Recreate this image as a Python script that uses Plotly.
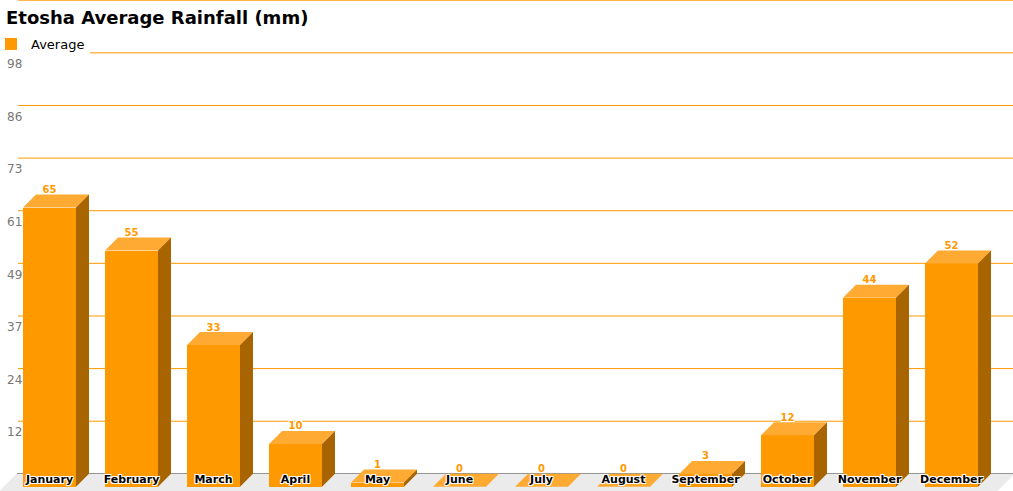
import plotly.graph_objects as go

# data
months = ["January", "February", "March", "April", "May", "June",
          "July", "August", "September", "October", "November", "December"]
rainfall = [65, 55, 33, 10, 1, 0, 0, 0, 3, 12, 44, 52]
y_tick_labels = ["12", "24", "37", "49", "61", "73", "86", "98"]
y_max = 98

# fake 3d geometry (pixels -> axis units)
W, H = 1013, 491
px_cat = 82.0      # pixels per category slot
px_mm = 4.296      # pixels per mm
depth = 13.0       # depth offset in pixels
dxu = depth / px_cat
dyu = depth / px_mm
hw = 26.5 / px_cat  # half bar width

x_lo = -62.5 / px_cat
x_hi = x_lo + W / px_cat
y_hi = 110.3
y_lo = y_hi - H / px_mm

front = "#FF9900"
top_c = "#FFAA33"
side_c = "#A86400"

idx = list(range(len(months)))
fx = [i - dxu for i in idx]

fig = go.Figure()

fig.add_trace(go.Bar(
    x=fx, y=rainfall, base=[-dyu] * len(idx), width=2 * hw,
    name="Average", marker=dict(color=front, line=dict(width=0)),
    hoverinfo="skip",
))

# top faces
tx, ty = [], []
for i, v in zip(idx, rainfall):
    tx += [i - dxu - hw, i - dxu + hw, i + hw, i - hw, i - dxu - hw, None]
    ty += [v - dyu, v - dyu, v, v, v - dyu, None]
fig.add_trace(go.Scatter(x=tx, y=ty, mode="lines", fill="toself", fillcolor=top_c,
                         line=dict(width=0, color=top_c), showlegend=False, hoverinfo="skip"))

# side faces
sx, sy = [], []
for i, v in zip(idx, rainfall):
    if v <= 0:
        continue
    sx += [i - dxu + hw, i + hw, i + hw, i - dxu + hw, i - dxu + hw, None]
    sy += [-dyu, 0, v, v - dyu, -dyu, None]
fig.add_trace(go.Scatter(x=sx, y=sy, mode="lines", fill="toself", fillcolor=side_c,
                         line=dict(width=0, color=side_c), showlegend=False, hoverinfo="skip"))

outline = "-1px -1px 0 #fff, 1px -1px 0 #fff, -1px 1px 0 #fff, 1px 1px 0 #fff"

# value labels
fig.add_trace(go.Scatter(
    x=fx, y=[v + 4 / px_mm for v in rainfall], mode="text",
    text=[str(v) for v in rainfall], textposition="middle center",
    textfont=dict(family="DejaVu Sans", size=10, color=front, weight="bold", shadow=outline),
    showlegend=False, hoverinfo="skip", cliponaxis=False,
))

# month labels
fig.add_trace(go.Scatter(
    x=fx, y=[-dyu * 0.5] * len(idx), mode="text",
    text=months, textposition="middle center",
    textfont=dict(family="DejaVu Sans", size=11, color="#000000", weight="bold", shadow=outline),
    showlegend=False, hoverinfo="skip", cliponaxis=False,
))

tick_vals = [y_max * (k + 1) / len(y_tick_labels) for k in range(len(y_tick_labels) + 1)]

shapes = []
# floor
fl, fr = -0.56, x_hi + 0.02
shapes.append(dict(type="path", xref="x", yref="y", layer="below",
                   path=f"M{fl},0 L{fr},0 L{fr - 2 * dxu},{-2 * dyu} L{fl - 2 * dxu},{-2 * dyu} Z",
                   fillcolor="#EBEBEB", line=dict(width=0)))
# gridlines
for t in tick_vals:
    shapes.append(dict(type="line", xref="paper", yref="y", layer="below",
                       x0=18 / W, x1=1, y0=t, y1=t, line=dict(color="#FF9900", width=1)))
# axis line
shapes.append(dict(type="line", xref="paper", yref="y", layer="below",
                   x0=17 / W, x1=1, y0=0, y1=0, line=dict(color="#333333", width=1)))

fig.update_layout(
    width=W, height=H, autosize=False,
    margin=dict(l=0, r=0, t=0, b=0),
    paper_bgcolor="white", plot_bgcolor="white",
    font=dict(family="DejaVu Sans", color="#000000"),
    title=dict(text="<b>Etosha Average Rainfall (mm)</b>", x=6 / W, xanchor="left",
               y=1 - 18 / H, yanchor="middle", font=dict(size=18, color="#000000")),
    legend=dict(x=0, y=1 - 29 / H, xanchor="left", yanchor="top", bgcolor="white",
                font=dict(size=13, color="#000000"), borderwidth=0, indentation=-9),
    showlegend=True,
    bargap=0,
    shapes=shapes,
    xaxis=dict(range=[x_lo, x_hi], showgrid=False, zeroline=False, showticklabels=False,
               showline=False, ticks="", fixedrange=True),
    yaxis=dict(range=[y_lo, y_hi], showgrid=False, zeroline=False, showline=False,
               tickvals=tick_vals[:-1], ticktext=y_tick_labels,
               ticklabelposition="inside", ticklabelshift=11, ticklabelstandoff=4,
               tickfont=dict(size=12, color="#777777"), ticks="", fixedrange=True),
)

fig.write_html("out.html", config={"displayModeBar": False},
               post_script="document.body.style.margin='0';")
